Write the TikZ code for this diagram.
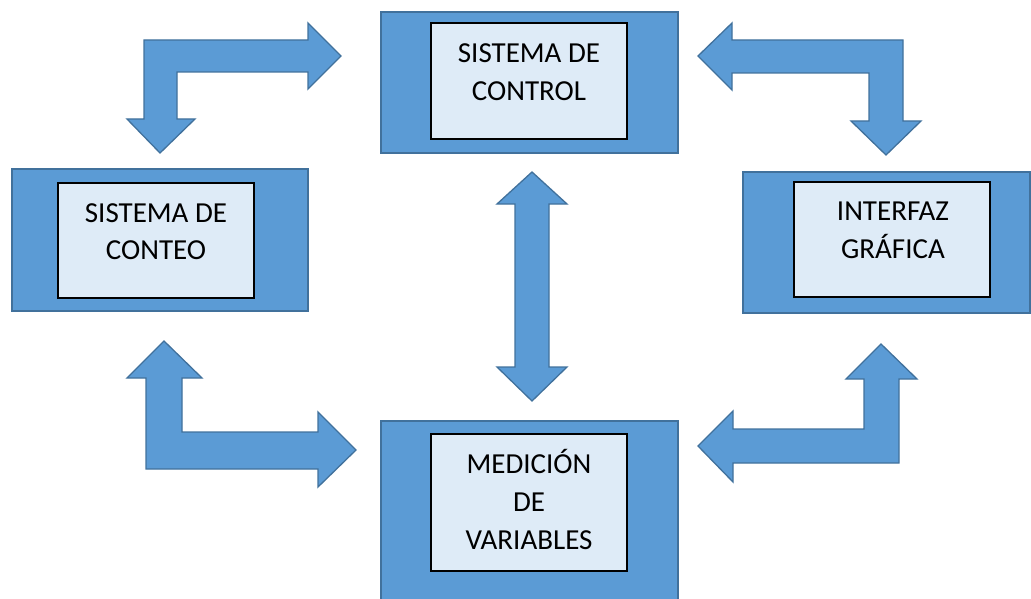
\documentclass[tikz,border=0pt]{standalone}
\usepackage{fontspec}
\setmainfont{Carlito}
\definecolor{boxblue}{HTML}{5B9BD5}
\definecolor{edgeblue}{HTML}{41719C}
\definecolor{paleblue}{HTML}{DEEBF7}
\tikzset{
  outerbox/.style={rectangle, fill=boxblue, draw=edgeblue, line width=1.3pt, inner sep=0pt, outer sep=0pt},
  innerbox/.style={rectangle, fill=paleblue, draw=black, line width=1.3pt, inner sep=0pt, outer sep=0pt},
  lbl/.style={anchor=base, inner sep=0pt, font=\fontsize{29}{38}\selectfont},
  blockarrow/.style={fill=boxblue, draw=edgeblue, line width=1.3pt, line join=miter}
}
\setlength{\tabcolsep}{0pt}
\begin{document}
\begin{tikzpicture}[x=1pt,y=-1pt]
\useasboundingbox (0,0) rectangle (1031,599);
\clip (0,0) rectangle (1031,599);
% boxes
\node[outerbox, minimum width=297pt, minimum height=141pt] (ctrlO) at (529.5,82.5) {};
\node[innerbox, minimum width=196pt, minimum height=116pt] (ctrlI) at (529,81) {};
\node[lbl] (ctrlT) at (529,63) {\begin{tabular}[t]{c}SISTEMA DE\\CONTROL\end{tabular}};

\node[outerbox, minimum width=296pt, minimum height=142pt] (contO) at (160,240) {};
\node[innerbox, minimum width=196pt, minimum height=115pt] (contI) at (156,240.5) {};
\node[lbl] (contT) at (156,222) {\begin{tabular}[t]{c}SISTEMA DE\\CONTEO\end{tabular}};

\node[outerbox, minimum width=287pt, minimum height=141pt] (intO) at (886.5,242.5) {};
\node[innerbox, minimum width=196pt, minimum height=115pt] (intI) at (892,239.5) {};
\node[lbl] (intT) at (893,220) {\begin{tabular}[t]{c}INTERFAZ\\GRÁFICA\end{tabular}};

\node[outerbox, minimum width=297pt, minimum height=219pt] (medO) at (529.5,530.5) {};
\node[innerbox, minimum width=196pt, minimum height=137pt] (medI) at (529,502.5) {};
\node[lbl] (medT) at (529,473) {\begin{tabular}[t]{c}MEDICIÓN\\DE\\VARIABLES\end{tabular}};

% block arrows
\draw[blockarrow] (144,40) -- (308,40) -- (308,23) -- (341,56) -- (308,89) -- (308,72) -- (177,72) -- (177,119) -- (195,119) -- (160,153) -- (127,119) -- (144,119) -- cycle;
\draw[blockarrow] (903,40) -- (732,40) -- (732,23) -- (698,56) -- (732,90) -- (732,73) -- (869,73) -- (869,121) -- (851,121) -- (886,155) -- (921,121) -- (903,121) -- cycle;
\draw[blockarrow] (146,469) -- (146,378) -- (127,378) -- (164,341) -- (202,378) -- (182,378) -- (182,432) -- (318,432) -- (318,412) -- (356,450) -- (318,487) -- (318,469) -- cycle;
\draw[blockarrow] (899,463) -- (733,463) -- (733,482) -- (698,446) -- (733,411) -- (733,429) -- (864,429) -- (864,379) -- (846,379) -- (881,344) -- (917,379) -- (899,379) -- cycle;
\draw[blockarrow] (532,172) -- (567,204) -- (549,204) -- (549,367) -- (567,367) -- (532,401) -- (497,367) -- (515,367) -- (515,204) -- (497,204) -- cycle;
\end{tikzpicture}
\end{document}
